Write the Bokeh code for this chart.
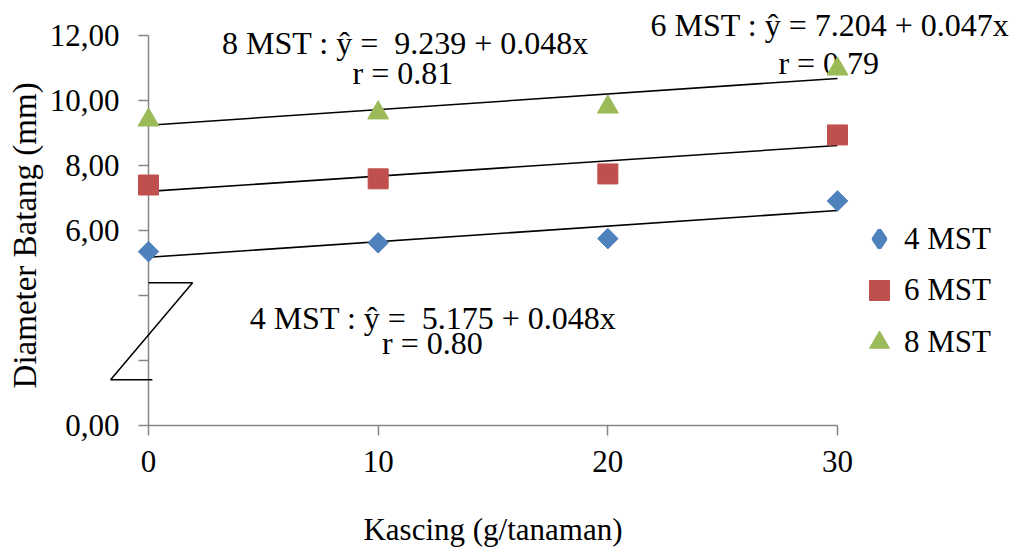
import numpy as np
from bokeh.plotting import figure
from bokeh.models import Range1d, FixedTicker, Legend, LegendItem, Label
from bokeh.core.properties import value
from bokeh.embed import file_html
from bokeh.resources import INLINE

# ---- data ----
kascing = [0, 10, 20, 30]
mst4 = [5.35, 5.62, 5.75, 6.91]
mst6 = [7.40, 7.59, 7.74, 8.94]
mst8 = [9.40, 9.62, 9.80, 10.97]
series_names = ["4 MST", "6 MST", "8 MST"]
intercepts = [5.175, 7.204, 9.239]
slopes = [0.048, 0.047, 0.048]
eq_texts = ["4 MST : ŷ = \u00a05.175 + 0.048x", "6 MST : ŷ = 7.204 + 0.047x", "8 MST : ŷ = \u00a09.239 + 0.048x"]
r_texts = ["r = 0.80", "r = 0.79", "r = 0.81"]
y_ticks = [0, 2, 4, 6, 8, 10, 12]
y_tick_labels = ["0,00", "", "", "6,00", "8,00", "10,00", "12,00"]
x_ticks = [0, 10, 20, 30]
x_tick_labels = ["0", "10", "20", "30"]
x_title = "Kascing (g/tanaman)"
y_title = "Diameter Batang (mm)"
break_x = [0, 1.92, -1.65, 0.17]
break_y = [4.39, 4.39, 1.41, 1.41]

FONT = "Liberation Serif"
FS = "31px"
EQ_FS = "32px"
colors = ["#4F81BD", "#C0504D", "#9BBB59"]
AXIS_COLOR = "#868686"

W, H = 1013, 549
LEFT, BOTTOM = 148, 124
frame_w = W - LEFT
frame_h = H - BOTTOM
px_per_x = 689 / 30.0
px_per_y = 390 / 12.0

p = figure(width=W, height=H, output_backend="svg", toolbar_location=None,
           x_range=Range1d(0, frame_w / px_per_x), y_range=Range1d(0, frame_h / px_per_y))
p.min_border_left = LEFT
p.min_border_right = 0
p.min_border_top = 0
p.min_border_bottom = BOTTOM
p.outline_line_color = None
p.xgrid.visible = False
p.ygrid.visible = False
p.background_fill_color = "white"
p.border_fill_color = "white"

# axes
for ax in (p.xaxis[0], p.yaxis[0]):
    ax.axis_line_color = AXIS_COLOR
    ax.axis_line_width = 1.5
    ax.major_tick_line_color = AXIS_COLOR
    ax.major_tick_line_width = 1.5
    ax.major_tick_out = 10
    ax.major_tick_in = 0
    ax.minor_tick_line_color = None
    ax.major_label_text_font = FONT
    ax.major_label_text_font_size = FS
    ax.major_label_text_color = "black"

p.xaxis.ticker = FixedTicker(ticks=x_ticks, minor_ticks=[])
p.xaxis.major_label_overrides = {t: l for t, l in zip(x_ticks, x_tick_labels)}
p.xaxis.major_label_standoff = 15
p.xaxis.bounds = (x_ticks[0], x_ticks[-1])

p.yaxis.ticker = FixedTicker(ticks=y_ticks, minor_ticks=[])
p.yaxis.major_label_overrides = {t: l for t, l in zip(y_ticks, y_tick_labels)}
p.yaxis.major_label_standoff = 19
p.yaxis.bounds = (y_ticks[0], y_ticks[-1])

# axis titles (centred under / beside the 0-30 and 0-12 spans)
p.text(x=[(x_ticks[0] + x_ticks[-1]) / 2], y=[-3.19], text=[x_title],
       text_font=value(FONT), text_font_size=FS, text_color="black",
       text_align="center", text_baseline="middle", level="overlay")
p.text(x=[-5.38], y=[5.85], text=[y_title], angle=np.pi / 2,
       text_font=value(FONT), text_font_size="33px", text_color="black",
       text_align="center", text_baseline="middle", level="overlay")

# regression lines
xs_line = [kascing[0], kascing[-1]]
for a, b in zip(intercepts, slopes):
    p.line(xs_line, [a + b * x for x in xs_line], line_color="black", line_width=1.6)

# points
series = [mst4, mst6, mst8]
markers = ["square", "square", "triangle"]
angles = [np.pi / 4, 0, 0]
sizes = [14.5, 20, 21]
rends = []
for vals, m, ang, sz, c in zip(series, markers, angles, sizes, colors):
    r = p.scatter(kascing, vals, marker=m, angle=ang, size=sz, fill_color=c,
                  line_color=c, level="overlay")
    rends.append(r)

# legend key for the diamond series (rotated markers are not rotated in legends)
key4 = p.scatter(x=[np.nan], y=[np.nan], marker="diamond", fill_color=colors[0],
                 line_color=colors[0], line_width=4, size=18)

# axis break symbol
p.line(break_x, break_y, line_color="black", line_width=1.5, level="overlay")

# equation labels
SHIFT = 0.34
eq_pos = [(12.39, 2.98), (29.67, 11.98), (11.19, 11.43)]
r_pos = [(12.36, 2.21), (29.62, 10.81), (11.08, 10.51)]
for t, (x, y) in zip(eq_texts, eq_pos):
    p.add_layout(Label(x=x, y=y + SHIFT, text=t, text_align="center", text_baseline="alphabetic",
                       text_font=FONT, text_font_size=EQ_FS, text_color="black"))
for t, (x, y) in zip(r_texts, r_pos):
    p.add_layout(Label(x=x, y=y + SHIFT, text=t, text_align="center", text_baseline="alphabetic",
                       text_font=FONT, text_font_size=EQ_FS, text_color="black"))

# legends
leg_a = Legend(items=[LegendItem(label=series_names[0], renderers=[key4])],
               location=(706, 164), glyph_width=50, glyph_height=45,
               label_standoff=0, label_text_font=FONT, label_text_font_size=FS,
               label_text_color="black", spacing=0, padding=0, margin=0,
               border_line_color=None, background_fill_alpha=0)
leg_b = Legend(items=[LegendItem(label=series_names[1], renderers=[rends[1]]),
                      LegendItem(label=series_names[2], renderers=[rends[2]])],
               location=(706, 58), glyph_width=50, glyph_height=50,
               label_standoff=0, label_text_font=FONT, label_text_font_size=FS,
               label_text_color="black", spacing=2, padding=0, margin=0,
               border_line_color=None, background_fill_alpha=0)
p.add_layout(leg_a)
p.add_layout(leg_b)

open("out.html", "w").write(file_html(p, INLINE))
